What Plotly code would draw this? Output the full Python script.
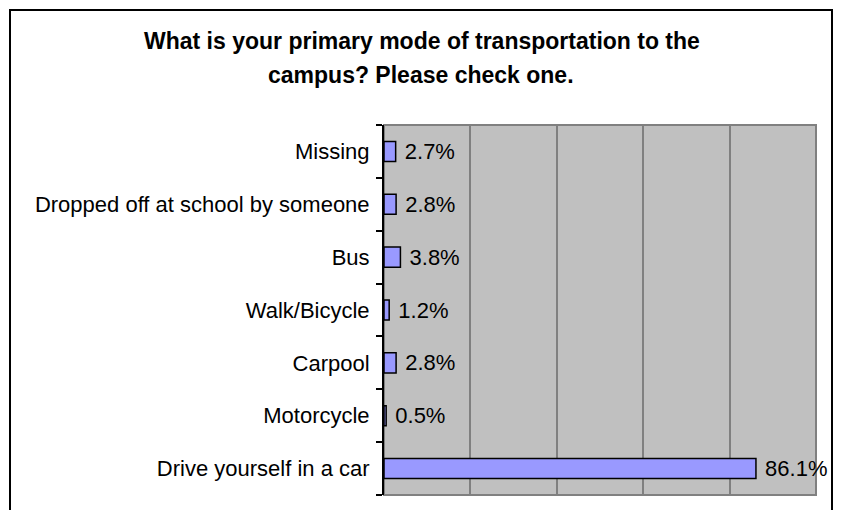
import plotly.graph_objects as go

categories = ["Drive yourself in a car", "Motorcycle", "Carpool", "Walk/Bicycle",
              "Bus", "Dropped off at school by someone", "Missing"]
values = [86.1, 0.5, 2.8, 1.2, 3.8, 2.8, 2.7]
title_lines = ["What is your primary mode of transportation to the",
               "campus? Please check one."]

W, H = 841, 510
L, R, T, B = 384, 25, 125, 15
pw, ph = W - L - R, H - T - B

def px_x(x):
    return (x - L) / pw

def px_y(y):
    return (H - B - y) / ph

font = "Liberation Sans, Arial, sans-serif"

fig = go.Figure(go.Bar(
    y=categories, x=values, orientation="h",
    marker=dict(color="#9999FF", line=dict(color="black", width=1.5)),
    width=0.38,
    texttemplate="\u00a0%{x:.1f}%", textposition="outside",
    constraintext="none",
    textfont=dict(family=font, size=22, color="black"),
    cliponaxis=False,
))

fig.update_layout(
    width=W, height=H,
    margin=dict(l=L, r=R, t=T, b=B),
    paper_bgcolor="white", plot_bgcolor="#C0C0C0",
    showlegend=False,
    font=dict(family=font, size=22, color="black"),
    xaxis=dict(range=[0, 100], dtick=20, showticklabels=False,
               showgrid=True, gridcolor="#808080", gridwidth=1.5,
               zeroline=False, showline=False, fixedrange=True),
    yaxis=dict(showline=True, linecolor="black", linewidth=2,
               ticks="outside", ticklen=6, tickcolor="black", tickwidth=1.5,
               tickson="boundaries", showgrid=False, ticklabelstandoff=8,
               tickfont=dict(family=font, size=22, color="black"), fixedrange=True),
    bargap=0.6,
    shapes=[
        dict(type="rect", xref="paper", yref="paper", x0=0, x1=1, y0=0, y1=1,
             line=dict(color="#808080", width=2), layer="below"),
        dict(type="rect", xref="paper", yref="paper",
             x0=px_x(10), x1=px_x(832), y0=px_y(530), y1=px_y(10),
             line=dict(color="black", width=2), fillcolor="rgba(0,0,0,0)"),
    ],
    annotations=[
        dict(text="<b>%s</b>" % title_lines[0], xref="paper", yref="paper",
             x=px_x(422), y=px_y(41), xanchor="center", yanchor="middle",
             showarrow=False, font=dict(family=font, size=23, color="black")),
        dict(text="<b>%s</b>" % title_lines[1], xref="paper", yref="paper",
             x=px_x(421), y=px_y(75), xanchor="center", yanchor="middle",
             showarrow=False, font=dict(family=font, size=23, color="black")),
    ],
)

fig.write_html("out.html", config={"displayModeBar": False},
               post_script="document.body.style.margin='0px';")
